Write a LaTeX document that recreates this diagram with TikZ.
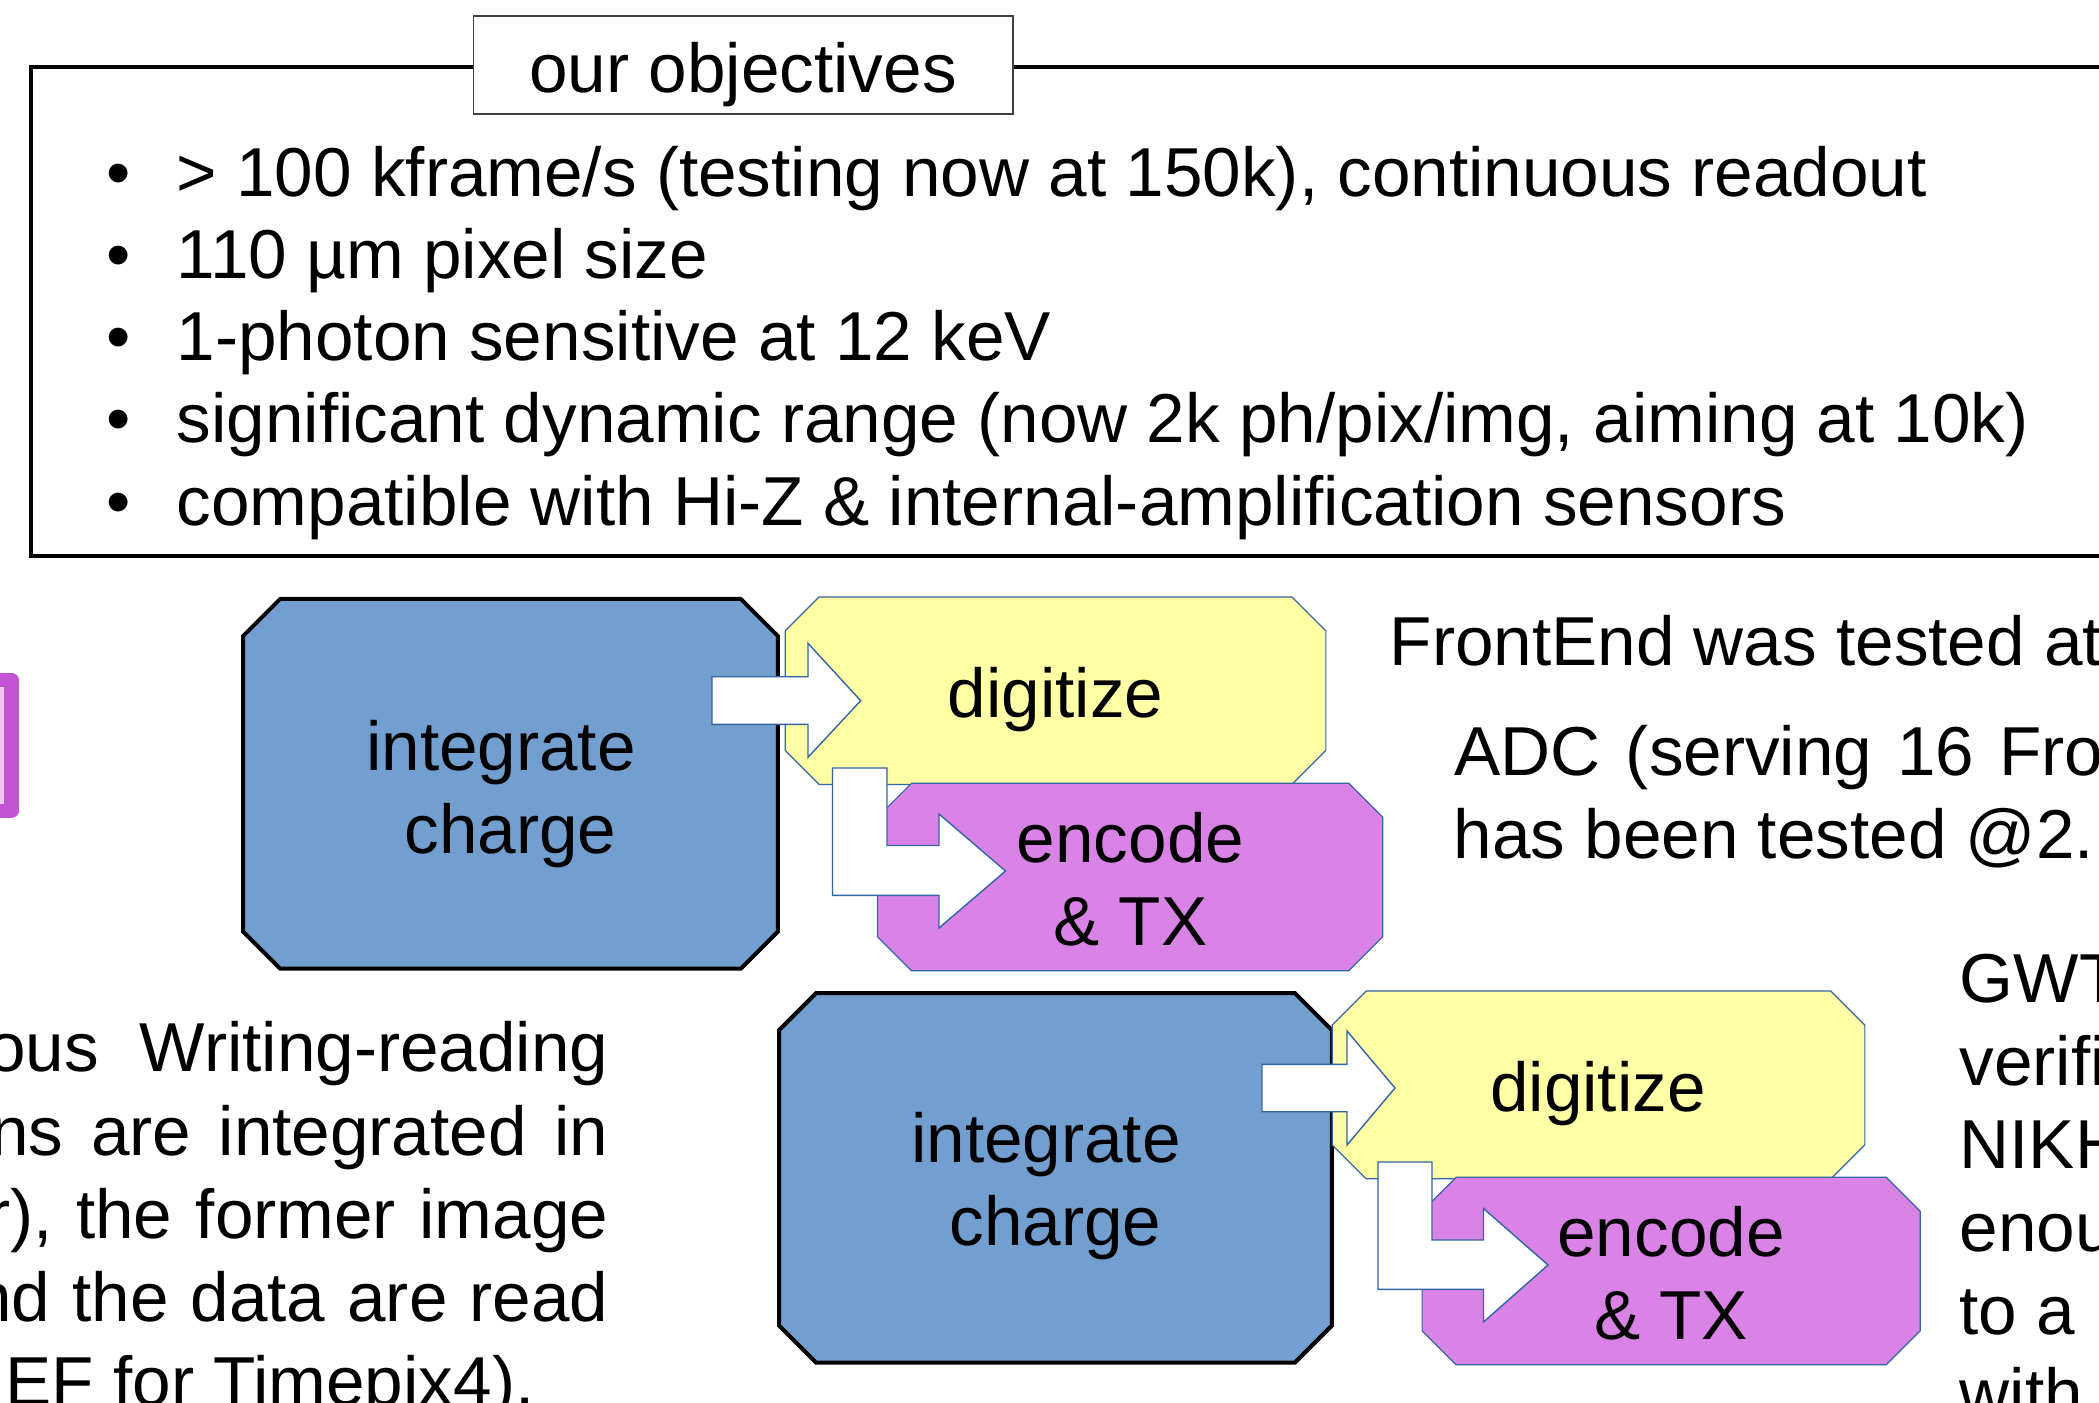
\documentclass[tikz,border=0pt]{standalone}
\usepackage{fontspec}
\setmainfont[Ligatures={NoCommon}]{Liberation Sans}
\definecolor{chargeblue}{RGB}{114,159,207}
\definecolor{digyellow}{RGB}{255,255,166}
\definecolor{encmagenta}{RGB}{218,131,230}
\definecolor{edgeblue}{RGB}{52,101,164}
\definecolor{tabmagenta}{RGB}{195,84,211}
\definecolor{tabpink}{RGB}{240,198,244}
\newcommand{\slidefont}{\fontsize{19.7}{23.6}\selectfont}
\newcommand{\wordgap}[1]{\spaceskip=#1\relax} % wider gaps of justified lines
% octagon round a box node: node, chamfer, style
\newcommand{\octbox}[3]{%
  \path[#3] ([xshift=#2]#1.north west) -- ([xshift=-#2]#1.north east)
    -- ([yshift=-#2]#1.north east) -- ([yshift=#2]#1.south east)
    -- ([xshift=-#2]#1.south east) -- ([xshift=#2]#1.south west)
    -- ([yshift=#2]#1.south west) -- ([yshift=-#2]#1.north west) -- cycle;}
\tikzset{
  txt/.style={ % every piece of slide text
    inner sep=0pt,
    font=\slidefont,
  },
  box/.style={ % frame the octagon is drawn round
    rectangle,
    inner sep=0pt,
  },
  titlebox/.style={ % label box on the objectives frame
    rectangle,draw=black!75,line width=0.5pt,fill=white,
    inner sep=0pt,font=\slidefont,
  },
  chargeshape/.style={fill=chargeblue,draw=black,line width=0.04cm},
  digshape/.style={fill=digyellow,draw=edgeblue,line width=0.35pt},
  encshape/.style={fill=encmagenta,draw=edgeblue,line width=0.35pt},
  fat/.style={ % hollow block arrows
    fill=white,draw=edgeblue,line width=0.4pt,
  },
}
\begin{document}
\begin{tikzpicture}[x=0.01cm,y=-0.01cm]
	\useasboundingbox (0,0) rectangle (2099,1403);
	\clip (0,0) rectangle (2099,1403);

	% objectives
	\draw[line width=0.035cm] (30.8,67) rectangle (2250,556);
	\node[titlebox,minimum width=5.39cm,minimum height=0.974cm,
		text height=0.6cm,text depth=0.048cm] (objtitle) at (743.1,65.1) {our objectives};
	\foreach \obj [count=\i] in {
		{\textgreater{} 100 kframe/s (testing now at 150k), continuous readout},
		{110 µm pixel size},
		{1-photon sensitive at 12 keV},
		{significant dynamic range (now 2k ph/pix/img, aiming at 10k)},
		{compatible with Hi-Z \& internal-amplification sensors}}
	{
		\node[txt,anchor=base] (dot\i) at (119,113.7+82.3*\i) {\textbullet};
		\node[txt,anchor=base west] (obj\i) at (176,113.7+82.3*\i) {\obj};
	}

	% cut-off tab on the left
	\draw[line width=0.14cm,draw=tabmagenta,fill=tabpink,line join=round]
		(-60,680) rectangle (11.5,810.5);

	% first chain
	\node[box,minimum width=5.33cm,minimum height=3.68cm] (int1) at (510.5,783.8) {};
	\octbox{int1}{0.37cm}{chargeshape}
	\node[box,minimum width=5.39cm,minimum height=1.86cm] (dig1) at (1055.5,690.7) {};
	\octbox{dig1}{0.34cm}{digshape}
	\node[box,minimum width=5.035cm,minimum height=1.86cm] (enc1) at (1130.2,877) {};
	\octbox{enc1}{0.34cm}{encshape}

	\filldraw[fat] (712,676.7) -- (808,676.7) -- (808,643.3) -- (860.7,700.7)
		-- (808,757.3) -- (808,724.3) -- (712,724.3) -- cycle;
	\filldraw[fat] (832.5,768) -- (887,768) -- (887,845.5) -- (939,845.5) -- (939,814)
		-- (1005.5,871) -- (939,928) -- (939,895.3) -- (832.5,895.3) -- cycle;

	% base of a two-line node is its last line
	\node[txt,anchor=base,align=center] (int1txt) at (510.5,853) {integrate\kern0.19cm\\charge};
	\node[txt,anchor=base] (dig1txt) at (1055.5,717) {digitize};
	\node[txt,anchor=base,align=center] (enc1txt) at (1130.5,945.5) {encode\\\& TX};

	% second chain
	\node[box,minimum width=5.51cm,minimum height=3.68cm] (int2) at (1055.5,1177.9) {};
	\octbox{int2}{0.37cm}{chargeshape}
	\node[box,minimum width=5.31cm,minimum height=1.863cm] (dig2) at (1598.5,1084.9) {};
	\octbox{dig2}{0.34cm}{digshape}
	\node[box,minimum width=4.965cm,minimum height=1.86cm] (enc2) at (1671.2,1271) {};
	\octbox{enc2}{0.34cm}{encshape}

	\filldraw[fat] (1262,1064.3) -- (1347,1064.3) -- (1347,1031) -- (1395,1088)
		-- (1347,1145) -- (1347,1111.7) -- (1262,1111.7) -- cycle;
	\filldraw[fat] (1378,1162) -- (1432,1162) -- (1432,1240) -- (1483.5,1240) -- (1483.5,1208.5)
		-- (1548,1265) -- (1483.5,1322) -- (1483.5,1289.3) -- (1378,1289.3) -- cycle;

	\node[txt,anchor=base,align=center] (int2txt) at (1055.5,1245) {integrate\kern0.19cm\\charge};
	\node[txt,anchor=base] (dig2txt) at (1598,1111.7) {digitize};
	\node[txt,anchor=base,align=center] (enc2txt) at (1671,1339) {encode\\\& TX};

	% text on the right
	\node[txt,anchor=base west] (fe) at (1389,665) {FrontEnd was tested at};
	\node[txt,anchor=base west] (adc1) at (1454,775) {\wordgap{0.25cm}ADC (serving 16 Fro};
	\node[txt,anchor=base west] (adc2) at (1453,858) {has been tested @2.};
	\foreach \w [count=\i from 0] in {GWT,verifi,NIKH,enou,to a,with}
		\node[txt,anchor=base west] (gwt\i) at (1959,1002+83*\i) {\w};

	% text on the left
	\node[txt,anchor=base east] (wr1) at (609,1071.7) {\wordgap{0.41cm}ous Writing-reading};
	\node[txt,anchor=base east] (wr2) at (609,1155) {\wordgap{0.275cm}ns are integrated in};
	\node[txt,anchor=base east] (wr3) at (609,1238) {\wordgap{0.235cm}r), the former image};
	\node[txt,anchor=base east] (wr4) at (609,1321.5) {\wordgap{0.22cm}nd the data are read};
	\node[txt,anchor=base west] (wr5) at (5,1405) {EF for Timepix4).};

\end{tikzpicture}
\end{document}
